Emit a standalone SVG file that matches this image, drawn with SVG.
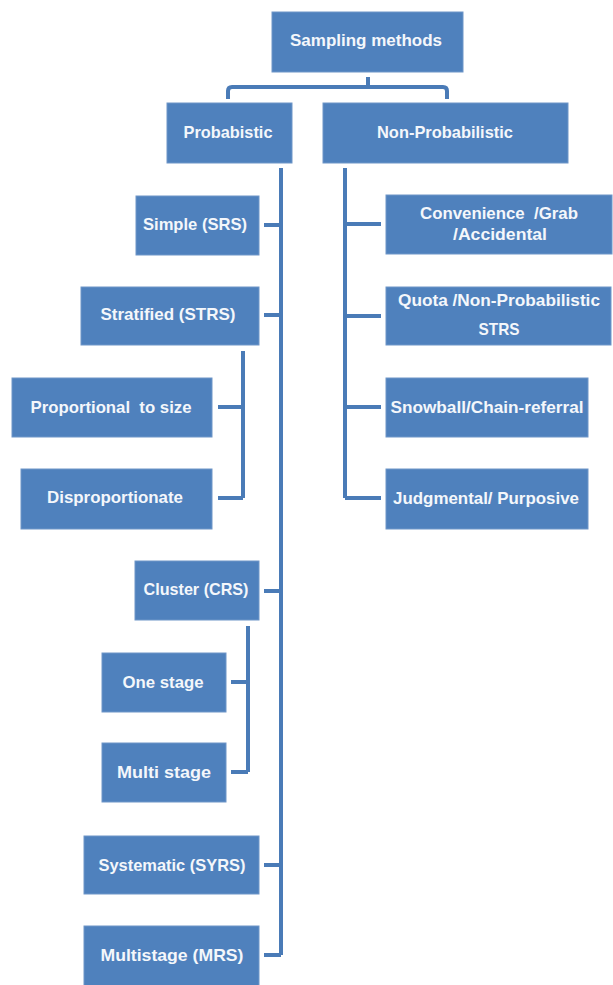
<svg xmlns="http://www.w3.org/2000/svg" width="613" height="985" viewBox="0 0 613 985">
<style>
.box{fill:#4F81BD;stroke:#6f96c8;stroke-width:1}
.t{font-family:"Liberation Sans",Arial,sans-serif;font-weight:bold;font-size:17px;fill:#f4f7fb;text-anchor:middle;white-space:pre}
.c{fill:none;stroke:#4A7BB7;stroke-width:4;stroke-linejoin:round}
</style>
<rect width="613" height="985" fill="#ffffff"/>
<g id="connectors">
<path class="c" d="M368 77 V87 M228 99 V91 Q228 87 232 87 H443 Q447 87 447 91 V99"/>
<path class="c" d="M281 168 V955 M264 225 H281 M264 315 H281 M264 591 H281 M264 865 H281 M264 955 H281"/>
<path class="c" d="M243 351 V498 M218 407 H243 M218 498 H243"/>
<path class="c" d="M248 626 V772 M231 682 H248 M231 772 H248"/>
<path class="c" d="M345 168 V498 M345 224 H381 M345 316 H381 M345 407 H381 M345 498 H381"/>
</g>
<g id="n-sampling"><rect class="box" x="272" y="12" width="191" height="60"/><text class="t" x="366" y="46" textLength="152" lengthAdjust="spacingAndGlyphs">Sampling methods</text></g>
<g id="n-prob"><rect class="box" x="167" y="103" width="125" height="60"/><text class="t" x="228" y="138" textLength="89" lengthAdjust="spacingAndGlyphs">Probabistic</text></g>
<g id="n-nonprob"><rect class="box" x="323" y="103" width="245" height="60"/><text class="t" x="445" y="138" textLength="136" lengthAdjust="spacingAndGlyphs">Non-Probabilistic</text></g>
<g id="n-simple"><rect class="box" x="136" y="196" width="123" height="59"/><text class="t" x="195" y="230" textLength="104" lengthAdjust="spacingAndGlyphs">Simple (SRS)</text></g>
<g id="n-stratified"><rect class="box" x="81" y="287" width="178" height="58"/><text class="t" x="168" y="320" textLength="135" lengthAdjust="spacingAndGlyphs">Stratified (STRS)</text></g>
<g id="n-proportional"><rect class="box" x="12" y="378" width="200" height="59"/><text class="t" x="111" y="413" textLength="161" lengthAdjust="spacingAndGlyphs">Proportional  to size</text></g>
<g id="n-disproportionate"><rect class="box" x="21" y="469" width="191" height="60"/><text class="t" x="115" y="503" textLength="136" lengthAdjust="spacingAndGlyphs">Disproportionate</text></g>
<g id="n-cluster"><rect class="box" x="135" y="561" width="124" height="59"/><text class="t" x="196" y="595" textLength="105" lengthAdjust="spacingAndGlyphs">Cluster (CRS)</text></g>
<g id="n-onestage"><rect class="box" x="102" y="653" width="124" height="59"/><text class="t" x="163" y="688" textLength="81" lengthAdjust="spacingAndGlyphs">One stage</text></g>
<g id="n-multistage-c"><rect class="box" x="102" y="743" width="124" height="59"/><text class="t" x="164" y="778" textLength="94" lengthAdjust="spacingAndGlyphs">Multi stage</text></g>
<g id="n-systematic"><rect class="box" x="84" y="836" width="175" height="58"/><text class="t" x="172" y="871" textLength="147" lengthAdjust="spacingAndGlyphs">Systematic (SYRS)</text></g>
<g id="n-multistage"><rect class="box" x="84" y="926" width="175" height="62"/><text class="t" x="172" y="961" textLength="143" lengthAdjust="spacingAndGlyphs">Multistage (MRS)</text></g>
<g id="n-convenience"><rect class="box" x="386" y="195" width="226" height="59"/><text class="t" x="499" y="219" textLength="158" lengthAdjust="spacingAndGlyphs">Convenience  /Grab</text><text class="t" x="500" y="240" textLength="94" lengthAdjust="spacingAndGlyphs">/Accidental</text></g>
<g id="n-quota"><rect class="box" x="386" y="287" width="225" height="58"/><text class="t" x="499" y="306" textLength="202" lengthAdjust="spacingAndGlyphs">Quota /Non-Probabilistic</text><text class="t" x="499" y="335" textLength="41" lengthAdjust="spacingAndGlyphs">STRS</text></g>
<g id="n-snowball"><rect class="box" x="386" y="378" width="202" height="59"/><text class="t" x="487" y="413" textLength="193" lengthAdjust="spacingAndGlyphs">Snowball/Chain-referral</text></g>
<g id="n-judgmental"><rect class="box" x="386" y="469" width="202" height="60"/><text class="t" x="486" y="504" textLength="186" lengthAdjust="spacingAndGlyphs">Judgmental/ Purposive</text></g>
</svg>
